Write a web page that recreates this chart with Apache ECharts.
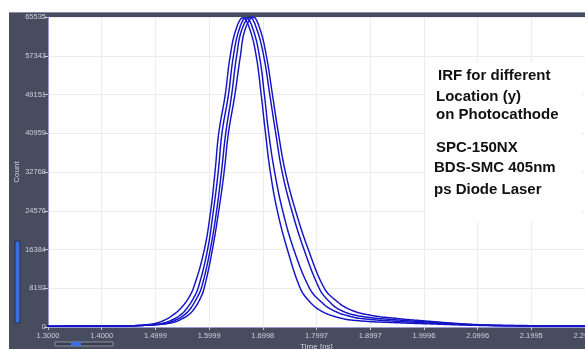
<!DOCTYPE html>
<html>
<head>
<meta charset="utf-8">
<script src="https://cdn.jsdelivr.net/npm/echarts@6/dist/echarts.min.js"></script>
<style>
  html, body { margin: 0; padding: 0; background: #fff; }
  #chart { width: 585px; height: 349px; }
</style>
</head>
<body>
<div id="chart"></div>
<script>
// tick labels as printed by the instrument software
const xTickLabels = ['1.3000', '1.4000', '1.4999', '1.5999', '1.6998', '1.7997', '1.8997', '1.9996', '2.0996', '2.1995', '2.2995'];
const yTickLabels = ['0', '8192', '16384', '24576', '32768', '40959', '49151', '57343', '65535'];

// IRF curves, [time ns, count]
const irfA = [
  [1.300, 160], [1.350, 180], [1.400, 170], [1.450, 230], [1.475, 380], [1.499, 750],
  [1.518, 1500], [1.531, 2400], [1.546, 3800], [1.561, 6000], [1.572, 8600], [1.591, 16300],
  [1.603, 24600], [1.611, 32800], [1.618, 41000], [1.630, 49100], [1.639, 57100], [1.650, 62900],
  [1.663, 65400], [1.676, 62900], [1.688, 57100], [1.697, 49100], [1.705, 41000], [1.714, 32800],
  [1.727, 24600], [1.746, 16300], [1.769, 8400], [1.783, 5900], [1.807, 3500], [1.844, 1900],
  [1.881, 1300], [1.950, 900], [2.000, 700], [2.100, 350], [2.200, 220], [2.300, 200]
];
const irfB = [
  [1.300, 180], [1.350, 160], [1.400, 200], [1.450, 240], [1.485, 400], [1.514, 800],
  [1.535, 1700], [1.546, 2500], [1.557, 3700], [1.570, 5900], [1.580, 8400], [1.597, 16300],
  [1.608, 24600], [1.617, 32800], [1.624, 41000], [1.636, 49100], [1.645, 57100], [1.656, 62900],
  [1.669, 65450], [1.682, 62900], [1.694, 57100], [1.703, 49100], [1.711, 41000], [1.722, 32800],
  [1.737, 24600], [1.758, 16300], [1.787, 8200], [1.806, 5600], [1.831, 3500], [1.868, 2100],
  [1.900, 1600], [1.950, 1200], [2.000, 900], [2.100, 400], [2.200, 240], [2.300, 200]
];
const irfC = [
  [1.300, 170], [1.350, 190], [1.400, 180], [1.450, 250], [1.490, 420], [1.522, 850],
  [1.542, 1700], [1.553, 2500], [1.564, 3700], [1.576, 5900], [1.586, 8400], [1.602, 16300],
  [1.614, 24600], [1.623, 32800], [1.631, 41000], [1.642, 49100], [1.651, 57100], [1.661, 62900],
  [1.676, 65500], [1.689, 62900], [1.702, 57100], [1.713, 49100], [1.724, 41000], [1.736, 32800],
  [1.754, 24600], [1.777, 16300], [1.805, 8200], [1.821, 5700], [1.844, 3600], [1.881, 2300],
  [1.950, 1500], [2.000, 1100], [2.100, 450], [2.200, 260], [2.300, 210]
];
const irfD = [
  [1.300, 150], [1.350, 200], [1.400, 190], [1.450, 260], [1.495, 450], [1.531, 900],
  [1.551, 1800], [1.563, 2700], [1.572, 3800], [1.583, 5900], [1.591, 8300], [1.606, 16300],
  [1.618, 24600], [1.628, 32800], [1.636, 41000], [1.648, 49100], [1.658, 57100], [1.667, 62900],
  [1.682, 65535], [1.695, 62900], [1.707, 57100], [1.718, 49100], [1.729, 41000], [1.742, 32800],
  [1.761, 24600], [1.785, 16300], [1.814, 8300], [1.834, 5800], [1.862, 3700], [1.900, 2500],
  [1.950, 1800], [2.000, 1300], [2.100, 500], [2.200, 280], [2.300, 220]
];

const noteLines = [
  'IRF for different', 'Location (y)', 'on Photocathode',
  'SPC-150NX', 'BDS-SMC 405nm', 'ps Diode Laser'
];

const frameColor = '#474c5f';
const labelColor = '#cdd1da';
const curveColor = '#1414c6';

const chart = echarts.init(document.getElementById('chart'));

function curve(data) {
  return {
    type: 'line',
    data: data,
    smooth: 0.4,
    showSymbol: false,
    lineStyle: { color: curveColor, width: 1.5, type: [1.5, 0.8], cap: 'round' },
    itemStyle: { color: curveColor },
    animation: false,
    z: 3
  };
}

const notePos = [[438, 76], [436, 97], [436, 115], [436, 148], [434, 168], [434, 190]];

const option = {
  backgroundColor: '#fff',
  animation: false,
  grid: {
    left: 48, top: 17, right: 0, bottom: 22,
    outerBoundsMode: 'none',
    containLabel: false,
    show: true, backgroundColor: '#fff', borderWidth: 0
  },
  xAxis: {
    type: 'value',
    min: 1.3, max: 2.3, interval: 0.1,
    name: 'Time [ns]',
    nameLocation: 'middle',
    nameGap: 16,
    nameMoveOverlap: false,
    nameTextStyle: { color: labelColor, fontSize: 8, fontFamily: 'Liberation Sans' },
    axisLine: { show: true, lineStyle: { color: '#9a9cd0', width: 1 } },
    axisTick: { show: true, length: 3, lineStyle: { color: '#c4c8d2' } },
    axisLabel: {
      color: labelColor, fontSize: 7.5, fontFamily: 'Liberation Sans', margin: 5,
      showMaxLabel: true,
      formatter: v => xTickLabels[Math.round((v - 1.3) / 0.1)] || ''
    },
    splitLine: { show: true, lineStyle: { color: '#ececec', width: 1 } }
  },
  yAxis: {
    type: 'value',
    min: 0, max: 65536, interval: 8192,
    name: 'Count',
    nameLocation: 'middle',
    nameGap: 27,
    nameMoveOverlap: false,
    nameTextStyle: { color: labelColor, fontSize: 8, fontFamily: 'Liberation Sans' },
    axisLine: { show: true, lineStyle: { color: '#9a9cd0', width: 1 } },
    axisTick: { show: true, length: 4, lineStyle: { color: '#c4c8d2' } },
    axisLabel: {
      color: labelColor, fontSize: 7.5, fontFamily: 'Liberation Sans', margin: 2,
      formatter: v => yTickLabels[Math.round(v / 8192)] || ''
    },
    splitLine: { show: true, lineStyle: { color: '#ececec', width: 1 } }
  },
  graphic: [
    // dark instrument frame
    { type: 'rect', z: -10, shape: { x: 9, y: 12, width: 39, height: 337 }, style: { fill: frameColor } },
    { type: 'rect', z: -10, shape: { x: 9, y: 12, width: 576, height: 5 }, style: { fill: frameColor } },
    { type: 'rect', z: -10, shape: { x: 9, y: 12, width: 576, height: 1 }, style: { fill: '#8a8fa6' } },
    { type: 'rect', z: -10, shape: { x: 9, y: 328, width: 576, height: 21 }, style: { fill: frameColor } },
    // vertical zoom slider
    { type: 'rect', z: -9, shape: { x: 15, y: 241, width: 5, height: 82 }, style: { fill: '#3a6ee8', stroke: '#2a2f40', lineWidth: 1 } },
    // horizontal scroll bar
    { type: 'rect', z: -9, shape: { x: 55, y: 342, width: 58, height: 4 }, style: { fill: '#3a3f50', stroke: '#8a8fa0', lineWidth: 1 } },
    { type: 'rect', z: -8, shape: { x: 71, y: 342, width: 10, height: 4 }, style: { fill: '#3a6ee8' } },
    // white box behind the note
    { type: 'rect', z: 20, shape: { x: 426, y: 62, width: 155, height: 160 }, style: { fill: '#fff' } }
  ].concat(noteLines.map((t, i) => ({
    type: 'text', z: 21,
    x: notePos[i][0], y: notePos[i][1],
    style: {
      text: t, fill: '#111', font: 'bold 15px "Liberation Sans", Arial, sans-serif',
      textAlign: 'left', textVerticalAlign: 'middle'
    }
  }))),
  series: [curve(irfA), curve(irfB), curve(irfC), curve(irfD)]
};

chart.setOption(option);
</script>
</body>
</html>
